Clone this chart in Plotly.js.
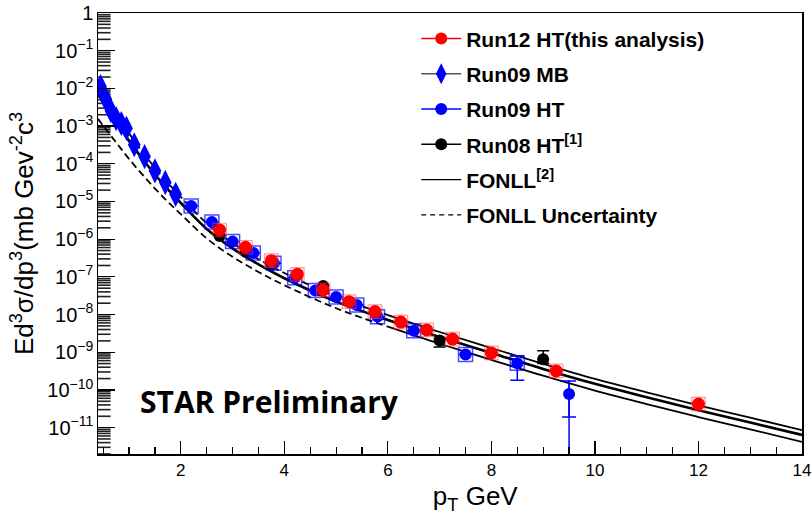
<!DOCTYPE html>
<html><head><meta charset="utf-8">
<script src="https://cdn.plot.ly/plotly-3.0.1.min.js"></script>
<style>html,body{margin:0;padding:0;background:#fff;} #chart{width:812px;height:519px;}</style>
</head><body><div id="chart"></div>
<script>
// ---- Run12 HT (this analysis) ----
const run12_pt   = [2.75, 3.25, 3.75, 4.25, 4.75, 5.25, 5.75, 6.25, 6.75, 7.25, 8.0, 9.25, 12.0];
const run12_y    = [1.75e-6, 6.1e-7, 2.69e-7, 1.17e-7, 4.5e-8, 2.2e-8, 1.2e-8, 6.3e-9, 3.9e-9, 2.24e-9, 9.6e-10, 3.2e-10, 4.2e-11];
const run12_stat = [1.0e-7, 3.5e-8, 1.6e-8, 7e-9, 2.8e-9, 1.4e-9, 8e-10, 4e-10, 2.5e-10, 1.5e-10, 7e-11, 2.5e-11, 4e-12];

// ---- Run09 MB ----
const mb09_pt = [0.45, 0.55, 0.65, 0.75, 0.85, 0.95, 1.1, 1.3, 1.5, 1.7, 1.9];
const mb09_y  = [1.11e-2, 5.2e-3, 2.57e-3, 1.58e-3, 1.17e-3, 8.7e-4, 3.2e-4, 1.55e-4, 6.5e-5, 3.2e-5, 1.55e-5];

// ---- Run09 HT ----
const ht09_pt      = [2.2, 2.6, 3.0, 3.4, 3.8, 4.2, 4.6, 5.0, 5.4, 5.8, 6.5, 7.5, 8.5, 9.5];
const ht09_y       = [7.6e-6, 2.86e-6, 8.6e-7, 4.3e-7, 2.29e-7, 9.5e-8, 4.35e-8, 2.9e-8, 1.8e-8, 8.8e-9, 3.74e-9, 8.7e-10, 5.1e-10, 7.8e-11];
const ht09_stat_up = [3e-7, 1.2e-7, 4e-8, 2e-8, 1e-8, 4e-9, 2e-9, 1.3e-9, 9e-10, 5e-10, 2.5e-10, 8e-11, 6e-11, 1.06e-10];
const ht09_stat_dn = [3e-7, 1.2e-7, 4e-8, 2e-8, 1e-8, 4e-9, 2e-9, 1.3e-9, 9e-10, 5e-10, 2.5e-10, 8e-11, 6e-11, 1.0e-10];
const ht09_sys_up  = [0, 0, 0, 0, 0, 0, 0, 0, 0, 0, 0, 0, 3.0e-10, 9.5e-11];
const ht09_sys_dn  = [0, 0, 0, 0, 0, 0, 0, 0, 0, 0, 0, 0, 3.3e-10, 5.9e-11];

// ---- Run08 HT ----
const ht08_pt     = [2.75, 3.25, 3.75, 4.75, 7.0, 9.0];
const ht08_y      = [1.22e-6, 4.6e-7, 2.1e-7, 5.7e-8, 2.04e-9, 6.5e-10];
const ht08_sys_up = [0, 0, 0, 0, 3e-10, 4.5e-10];
const ht08_sys_dn = [0, 0, 0, 0, 6.6e-10, 1.5e-10];

// ---- FONLL ----
const fonll_pt  = [0.4, 0.6, 0.8, 1.0, 1.25, 1.5, 1.75, 2.0, 2.5, 3.0, 3.5, 4.0, 5.0, 6.0, 7.0, 8.0, 9.0, 10.0, 11.0, 12.0, 13.0, 14.0];
const fonll_c   = [7.0e-3, 2.7e-3, 1.02e-3, 4.05e-4, 1.4e-4, 5.2e-5, 2.1e-5, 9.1e-6, 1.87e-6, 5.7e-7, 2.13e-7, 9.2e-8, 2.2e-8, 7.2e-9, 2.55e-9, 9.6e-10, 3.6e-10, 1.45e-10, 6.4e-11, 2.9e-11, 1.36e-11, 6.4e-12];
const fonll_up  = [1.0e-2, 4.3e-3, 1.6e-3, 6.4e-4, 2.17e-4, 7.8e-5, 3.1e-5, 1.32e-5, 2.64e-6, 7.9e-7, 2.94e-7, 1.26e-7, 3.0e-8, 9.7e-9, 3.44e-9, 1.29e-9, 4.9e-10, 1.96e-10, 8.6e-11, 3.9e-11, 1.83e-11, 8.6e-12];
const fonll_lo  = [1.55e-3, 6.8e-4, 3.0e-4, 1.34e-4, 5.3e-5, 2.2e-5, 9.8e-6, 4.6e-6, 1.05e-6, 3.4e-7, 1.35e-7, 6.0e-8, 1.47e-8, 4.75e-9, 1.68e-9, 6.3e-10, 2.38e-10, 9.6e-11, 4.2e-11, 1.91e-11, 9.0e-12, 4.2e-12];

// legend labels
const names = ['Run12 HT(this analysis)', 'Run09 MB', 'Run09 HT', 'Run08 HT<sup>[1]</sup>', 'FONLL<sup>[2]</sup>', 'FONLL Uncertainty'];

const X_MIN = 0.4, X_MAX = 14, Y_LOG_MIN = -11.7, Y_LOG_MAX = 0;

const splitAt = fonll_pt.indexOf(6.0);
const traces = [];

// minor tick marks of the log y axis (2..9 per decade), drawn as short horizontal dashes at the frame
const yMinor = [];
for (let e = -12; e < 0; e++) for (let m = 2; m <= 9; m++) {
  const v = m * Math.pow(10, e);
  if (Math.log10(v) > Y_LOG_MIN) yMinor.push(v);
}
traces.push({x: yMinor.map(() => X_MIN), y: yMinor, mode: 'markers', showlegend: false, hoverinfo: 'skip',
  cliponaxis: true, marker: {symbol: 'line-ew-open', size: 18, color: '#222', line: {width: 1.6, color: '#222'}}});

function band(yv, dashed) {
  const xs = dashed ? fonll_pt.slice(0, splitAt + 1) : fonll_pt.slice(splitAt);
  const ys = dashed ? yv.slice(0, splitAt + 1) : yv.slice(splitAt);
  return {x: xs, y: ys, mode: 'lines', line: {color: '#000', width: 1.8, shape: 'spline', dash: dashed ? '7px,4px' : 'solid'}, showlegend: false, hoverinfo: 'skip'};
}
traces.push(band(fonll_up, true), band(fonll_up, false), band(fonll_lo, true), band(fonll_lo, false));
traces.push({x: fonll_pt, y: fonll_c, mode: 'lines', line: {color: '#000', width: 2.6, shape: 'spline'}, showlegend: false});

// Run08 HT
traces.push({x: ht08_pt, y: ht08_y, mode: 'markers', showlegend: false,
  marker: {symbol: 'circle', size: 12, color: '#000'},
  error_y: {type: 'data', symmetric: false, array: ht08_sys_up, arrayminus: ht08_sys_dn, color: '#000', thickness: 1.5, width: 6}});
// Run09 HT systematics
traces.push({x: ht09_pt, y: ht09_y, mode: 'markers', showlegend: false,
  marker: {symbol: 'square-open', size: ht09_pt.map((p, i) => i === ht09_pt.length - 1 ? 0 : 14), color: '#0000ff', line: {width: 1.5}},
  error_y: {type: 'data', symmetric: false, array: ht09_sys_up, arrayminus: ht09_sys_dn, color: '#0000ff', thickness: 1.5, width: 7}});
// Run09 HT
traces.push({x: ht09_pt, y: ht09_y, mode: 'markers', showlegend: false,
  marker: {symbol: 'circle', size: 12, color: '#0000ff'},
  error_y: {type: 'data', symmetric: false, array: ht09_stat_up, arrayminus: ht09_stat_dn, color: '#0000ff', thickness: 1.5, width: 0}});
// Run09 MB
traces.push({x: mb09_pt, y: mb09_y, mode: 'markers', showlegend: false,
  marker: {symbol: 'diamond-tall', size: 18, color: '#0000ff'}});
// Run12 HT sys boxes + points
traces.push({x: run12_pt, y: run12_y, mode: 'markers', showlegend: false,
  marker: {symbol: 'square-open', size: 13.5, color: 'rgba(255,70,70,0.55)', line: {width: 1.2}}});
traces.push({x: run12_pt, y: run12_y, mode: 'markers', showlegend: false,
  marker: {symbol: 'circle', size: 13, color: '#ff0000'},
  error_y: {type: 'data', array: run12_stat, color: '#ff0000', thickness: 1.5, width: 0}});

// legend entries
const legendStyles = [
  {line: {color: '#ff0000', width: 1.5}, marker: {symbol: 'circle', size: 12, color: '#ff0000'}},
  {line: {color: '#555', width: 1.5}, marker: {symbol: 'diamond-tall', size: 15, color: '#0000ff'}},
  {line: {color: '#0000ff', width: 1.5}, marker: {symbol: 'circle', size: 12, color: '#0000ff'}},
  {line: {color: '#000', width: 1.5}, marker: {symbol: 'circle', size: 12, color: '#000'}},
  {line: {color: '#000', width: 1.2}},
  {line: {color: '#000', width: 1.2, dash: '5px,4px'}}
];
names.forEach((n, i) => {
  const s = legendStyles[i];
  traces.push(Object.assign({x: [null], y: [null], name: n, legendgroup: 'g' + i, showlegend: true,
    mode: s.marker ? 'lines+markers' : 'lines', hoverinfo: 'skip'}, s));
});

const layout = {
  width: 812, height: 519,
  margin: {l: 98, r: 10, t: 13, b: 65},
  paper_bgcolor: '#fff', plot_bgcolor: '#fff',
  font: {family: 'Liberation Sans, Arial, sans-serif', color: '#000'},
  showlegend: true,
  legend: {x: 0.452, y: 0.988, xanchor: 'left', yanchor: 'top', bgcolor: 'rgba(0,0,0,0)',
    font: {size: 21, weight: 'bold', family: 'Liberation Sans, Arial, sans-serif'},
    traceorder: 'grouped', tracegroupgap: 5, itemwidth: 40},
  xaxis: {range: [X_MIN, X_MAX], tickvals: [2, 4, 6, 8, 10, 12, 14], ticks: 'inside', ticklen: 13, tickwidth: 1.2, tickcolor: '#000',
    showline: true, linecolor: '#000', linewidth: 1.5, mirror: true, showgrid: false, zeroline: false,
    tickfont: {size: 17},
    minor: {dtick: 0.5, ticks: 'inside', ticklen: 7, tickwidth: 1.2, tickcolor: '#000', showgrid: false},
    title: {text: '&nbsp;&nbsp;&nbsp;&nbsp;&nbsp;&nbsp;&nbsp;p<sub>T</sub> GeV', font: {size: 26}, standoff: 8}},
  yaxis: {type: 'log', range: [Y_LOG_MIN, Y_LOG_MAX], dtick: 1, exponentformat: 'power', ticks: 'inside', ticklen: 17, tickwidth: 1.2, tickcolor: '#000',
    showline: true, linecolor: '#000', linewidth: 1.5, mirror: true, showgrid: false, zeroline: false,
    tickfont: {size: 16},
    title: {text: 'Ed<sup>3</sup>σ/dp<sup>3</sup>(mb Gev<sup>-2</sup>c<sup>3</sup>', font: {size: 26}, standoff: 6}},
  annotations: [{xref: 'paper', yref: 'paper', x: 0.244, y: 0.118, xanchor: 'center', yanchor: 'middle', showarrow: false,
    text: '<b>STAR Preliminary</b>', font: {family: 'Open Sans, sans-serif', size: 30, color: '#000'}}]
};

Plotly.newPlot('chart', traces, layout, {displayModeBar: false, staticPlot: true});
</script></body></html>
